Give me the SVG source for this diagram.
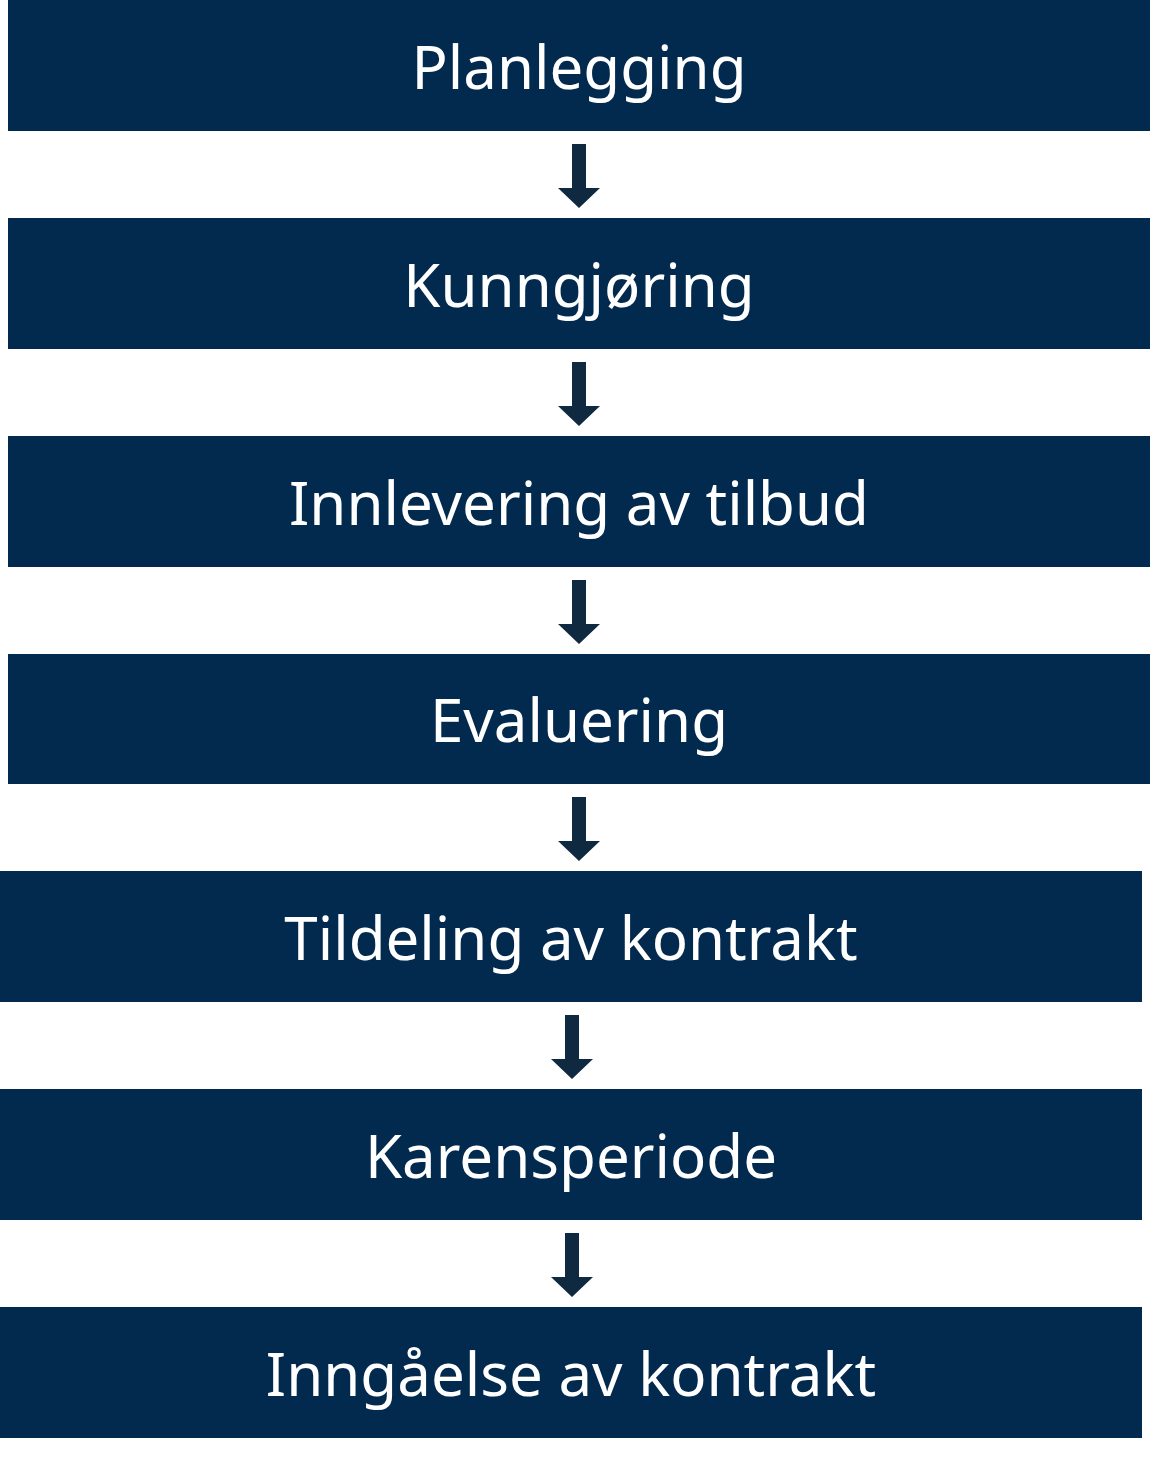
<svg xmlns="http://www.w3.org/2000/svg" width="1150" height="1457" viewBox="0 0 1150 1457">
<style>
.box{fill:#022a4e}
.t{fill:#fff;font-family:"Noto Sans",sans-serif;font-size:60px;text-anchor:middle}
.ar{fill:#0f2a40}
</style>
<rect width="1150" height="1457" fill="#fff"/>
<g id="n1"><rect class="box" x="8" y="0" width="1142" height="131"/><text class="t" x="579" y="89">Planlegging</text></g>
<g id="n2"><rect class="box" x="8" y="218" width="1142" height="131"/><text class="t" x="579" y="307">Kunngjøring</text></g>
<g id="n3"><rect class="box" x="8" y="436" width="1142" height="131"/><text class="t" x="579" y="525">Innlevering av tilbud</text></g>
<g id="n4"><rect class="box" x="8" y="654" width="1142" height="130"/><text class="t" x="579" y="742">Evaluering</text></g>
<g id="n5"><rect class="box" x="0" y="871" width="1142" height="131"/><text class="t" x="571" y="960">Tildeling av kontrakt</text></g>
<g id="n6"><rect class="box" x="0" y="1089" width="1142" height="131"/><text class="t" x="571" y="1178">Karensperiode</text></g>
<g id="n7"><rect class="box" x="0" y="1307" width="1142" height="131"/><text class="t" x="571" y="1396">Inngåelse av kontrakt</text></g>
<g id="connectors">
<path class="ar" d="M572 144h14v44h14l-21 20l-21-20h14z"/>
<path class="ar" d="M572 362h14v44h14l-21 20l-21-20h14z"/>
<path class="ar" d="M572 580h14v44h14l-21 20l-21-20h14z"/>
<path class="ar" d="M572 797h14v44h14l-21 20l-21-20h14z"/>
<path class="ar" d="M565 1015h14v44h14l-21 20l-21-20h14z"/>
<path class="ar" d="M565 1233h14v44h14l-21 20l-21-20h14z"/>
</g>
</svg>
